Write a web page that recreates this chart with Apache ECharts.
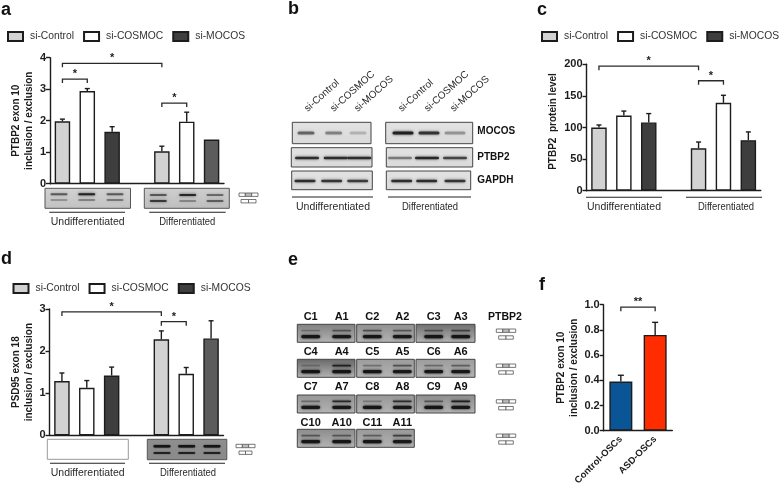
<!DOCTYPE html>
<html>
<head>
<meta charset="utf-8">
<style>html,body{margin:0;padding:0;background:#fff}#c{width:779px;height:483px}</style>
<script src="https://cdn.jsdelivr.net/npm/echarts@6/dist/echarts.min.js"></script>
</head>
<body>
<div id="c"></div>
<script>
// ---------- chart values ----------
const groupNames = ['si-Control', 'si-COSMOC', 'si-MOCOS'];
const aUndiff = [1.98, 2.94, 1.65];
const aUndiffErr = [2.05, 3.02, 1.81];
const aDiff = [1.03, 1.97, 1.40];
const aDiffErr = [1.19, 2.27, null];
const cUndiff = [100, 119, 108];
const cUndiffErr = [104, 126, 122];
const cDiff = [67, 139, 80];
const cDiffErr = [77, 151, 93];
const dUndiff = [1.29, 1.13, 1.42];
const dUndiffErr = [1.48, 1.30, 1.62];
const dDiff = [2.28, 1.46, 2.30];
const dDiffErr = [2.48, 1.61, 2.72];
const fNames = ['Control-OSCs', 'ASD-OSCs'];
const fValues = [0.39, 0.76];
const fErr = [0.44, 0.86];
// brackets: from slot, to slot, height in value units, label
const aBrackets = [[0, 4, 3.82, '*'], [0, 1, 3.32, '*'], [4, 5, 2.56, '*']];
const cBrackets = [[0, 4, 197, '*'], [4, 5, 174, '*']];
const dBrackets = [[0, 4, 2.93, '*'], [4, 5, 2.70, '*']];
const fBrackets = [[0, 1, 0.98, '**']];
const blotColumns = ['si-Control', 'si-COSMOC', 'si-MOCOS'];
const blotRows = ['MOCOS', 'PTBP2', 'GAPDH'];
const sampleRows = [
  ['C1', 'A1', 'C2', 'A2', 'C3', 'A3'],
  ['C4', 'A4', 'C5', 'A5', 'C6', 'A6'],
  ['C7', 'A7', 'C8', 'A8', 'C9', 'A9'],
  ['C10', 'A10', 'C11', 'A11']
];
// band darkness per lane [upper, lower]
const sampleBands = [
  [[.25,1],[.5,.95],[.55,1],[.5,.95],[.5,1],[.6,1]],
  [[.2,1],[.95,1],[.3,1],[.55,.95],[.35,1],[.45,.95]],
  [[.35,.95],[.9,.95],[.25,1],[.85,.95],[.5,1],[1,.95]],
  [[.5,1],[.5,1],[.45,1],[.7,.95]]
];
const blotBands = {
  MOCOS: [[.55,.4,.15],[1,.85,.3]],
  PTBP2: [[.9,.9,.9],[.45,.95,.75]],
  GAPDH: [[.9,.85,.8],[.9,.9,.85]]
};

// ---------- styling ----------
const FONT = '"Liberation Sans", Arial, sans-serif';
const INK = '#1c1c1c';
const BAR_FILL = ['#d2d2d2', '#ffffff', '#3e3e3e'];
const BAR_FILL_DIFF = {a: '#5c5c5c', c: '#3e3e3e', d: '#5c5c5c'};

// ---------- ECharts layout ----------
const grids = [
  {left: 50, top: 57.7, width: 174, height: 126, outerBoundsMode: 'none'},
  {left: 586.5, top: 64.3, width: 174.3, height: 126.4, outerBoundsMode: 'none'},
  {left: 49.5, top: 309, width: 174, height: 126.3, outerBoundsMode: 'none'},
  {left: 603.7, top: 304.7, width: 68.6, height: 126, outerBoundsMode: 'none'}
];
function yAxis(i, min, max, interval, name, gap, fmt, namePad) {
  return {
    type: 'value', gridIndex: i, min, max, interval,
    name, nameLocation: 'middle', nameRotate: 90, nameGap: gap,
    nameTextStyle: {fontFamily: FONT, fontWeight: 'bold', fontSize: 10, color: INK, lineHeight: 13, padding: namePad || 0},
    splitLine: {show: false},
    axisLine: {show: true, lineStyle: {color: INK, width: 1.4}},
    axisTick: {show: true, length: 4, lineStyle: {color: INK, width: 1.4}},
    axisLabel: {fontFamily: FONT, fontWeight: 'bold', fontSize: 11, color: INK, margin: 4, formatter: fmt}
  };
}
function xAxis(i, names, extra) {
  return Object.assign({
    type: 'category', gridIndex: i, data: names,
    axisLine: {show: true, lineStyle: {color: INK, width: 1.4}},
    axisTick: {show: false}, axisLabel: {show: false}
  }, extra || {});
}
const slotNames = ['u1', 'u2', 'u3', '', 'd1', 'd2', 'd3'];

function panelBars(i, key, under, diff) {
  return groupNames.map((name, k) => {
    const data = slotNames.map(() => null);
    data[k] = under[k];
    data[k + 4] = k === 2 ? {value: diff[k], itemStyle: {color: BAR_FILL_DIFF[key]}} : diff[k];
    return {
      type: 'bar', name, xAxisIndex: i, yAxisIndex: i, data,
      barWidth: 15.5, barGap: '-100%',
      itemStyle: {color: BAR_FILL[k], borderColor: INK, borderWidth: 1.4},
      z: 3
    };
  });
}
function errorSeries(i, rows, cap) {
  return {
    type: 'custom', xAxisIndex: i, yAxisIndex: i, data: rows, z: 2, silent: true,
    renderItem(p, api) {
      const top = api.coord([api.value(0), api.value(1)]);
      const base = api.coord([api.value(0), api.value(2)]);
      const s = {stroke: INK, lineWidth: 1.4};
      return {type: 'group', children: [
        {type: 'line', shape: {x1: top[0], y1: top[1], x2: base[0], y2: base[1]}, style: s},
        {type: 'line', shape: {x1: top[0] - cap, y1: top[1], x2: top[0] + cap, y2: top[1]}, style: s}
      ]};
    }
  };
}
function bracketSeries(i, rows) {
  return {
    type: 'custom', xAxisIndex: i, yAxisIndex: i, data: rows.map(r => [r[0], r[1], r[2]]), z: 4, silent: true,
    renderItem(p, api) {
      const a = api.coord([api.value(0), api.value(2)]);
      const b = api.coord([api.value(1), api.value(2)]);
      return {type: 'group', children: [
        {type: 'polyline', shape: {points: [[a[0], a[1] + 4], [a[0], a[1]], [b[0], b[1]], [b[0], b[1] + 4]]},
         style: {stroke: '#2a2a2a', lineWidth: 1.3, fill: 'none'}},
        {type: 'text', style: {text: rows[p.dataIndex][3], x: (a[0] + b[0]) / 2, y: a[1] - 5,
          font: 'bold 11px ' + FONT, fill: INK, textAlign: 'center', textVerticalAlign: 'middle'}}
      ]};
    }
  };
}
function errRows(under, uErr, diff, dErr) {
  const rows = [];
  under.forEach((v, k) => { if (uErr[k] != null) rows.push([k, uErr[k], v]); });
  diff.forEach((v, k) => { if (dErr[k] != null) rows.push([k + 4, dErr[k], v]); });
  return rows;
}

// ---------- gel drawings ----------
const g = [];
function text(t, x, y, o) {
  o = o || {};
  g.push({type: 'text', x, y, rotation: o.rot || 0, scaleX: o.sx || 1, z: 20, silent: true,
    style: {text: t, x: 0, y: 0, font: (o.bold ? 'bold ' : '') + (o.size || 10.5) + 'px ' + FONT,
      fill: o.fill || '#2a2a2a', textAlign: o.align || 'center', textVerticalAlign: 'middle'}});
}
function line(x1, x2, y) {
  g.push({type: 'line', z: 20, silent: true, shape: {x1, y1: y, x2, y2: y}, style: {stroke: '#222', lineWidth: 1.1}});
}
function box(x, y, w, h, c1, c2, stroke) {
  g.push({type: 'rect', z: 10, silent: true, shape: {x, y, width: w, height: h},
    style: {fill: {type: 'linear', x: 0, y: 0, x2: 0, y2: 1, colorStops: [{offset: 0, color: c1}, {offset: 1, color: c2}]},
      stroke: stroke || '#555', lineWidth: 1}});
}
function band(cx, cy, w, h, dark, blur) {
  const c = `rgba(20,20,20,${(0.08 + dark * .8).toFixed(2)})`;
  g.push({type: 'rect', z: 11, silent: true, shape: {x: cx - w / 2, y: cy - h / 2, width: w, height: h, r: h / 2},
    style: {fill: c, shadowBlur: blur == null ? 3 : blur, shadowColor: c}});
}
function schematic(x, y, w, y2, inset) {
  const cell = w / 3;
  [0, 1, 2].forEach(k => g.push({type: 'rect', z: 12, silent: true,
    shape: {x: x + k * cell, y, width: cell, height: 3.4},
    style: {fill: k === 1 ? '#bdbdbd' : '#fff', stroke: '#555', lineWidth: .8}}));
  [0, 1].forEach(k => g.push({type: 'rect', z: 12, silent: true,
    shape: {x: x + inset + k * (w - 2 * inset) / 2, y: y2, width: (w - 2 * inset) / 2, height: 3.4},
    style: {fill: '#fff', stroke: '#555', lineWidth: .8}}));
}
const DSX = 0.9;

// panel letters
[['a', 1, 10], ['b', 288, 9], ['c', 537, 10], ['d', 1, 259], ['e', 288, 260], ['f', 539, 285]].forEach(l =>
  text(l[0], l[1], l[2], {bold: true, size: 18, align: 'left', fill: '#111'}));

// panel a gels
box(45, 188.3, 85.5, 20, '#d2d2d2', '#c2c2c2');
box(144.3, 188.3, 85, 20, '#cfcfcf', '#bdbdbd');
[[59, .6, .25], [86.7, 1, .35], [115, .6, .4]].forEach(b => {
  band(b[0], 194.3, 17, 2, b[1]); band(b[0], 200, 17, 2, b[2]);
});
[[158.3, .6, .8], [187.7, .95, .3], [215, .5, .55]].forEach(b => {
  band(b[0], 195, 17, 2, b[1]); band(b[0], 201, 17, 2, b[2]);
});
schematic(239, 193, 19, 199.5, 2);
line(49.3, 125, 212.3); line(149.3, 225.7, 212.3);
text('Undifferentiated', 87.7, 222); text('Differentiated', 187.3, 222, {sx: DSX});

// panel b blots
const blotY = [[122.3, 21.4, 133], [147.7, 19.3, 158], [171, 18.7, 181]];
const blotX = [[[292.3, 78.7], [385.7, 87]], [[291.3, 80.7], [386.3, 86.4]], [[291.7, 80.6], [386.3, 84.4]]];
const blotLanes = [[[306, 333.7, 358], [403, 429, 455]], [[307, 335.7, 359.3], [400, 427, 455]], [[305, 331.7, 357.7], [401.7, 426.7, 455]]];
blotRows.forEach((name, r) => {
  [0, 1].forEach(side => {
    box(blotX[r][side][0], blotY[r][0], blotX[r][side][1], blotY[r][1], '#e2e2e2', '#dadada', '#444');
    blotBands[name][side].forEach((d, k) =>
      band(blotLanes[r][side][k], blotY[r][2], r === 0 && side === 0 ? 17 : (r === 1 ? 24 : 21), r === 0 ? 3 : 2.6, d));
  });
  text(name, 477.3, [131.3, 157, 180][r], {bold: true, size: 10, align: 'left', fill: '#111'});
});
[[306, 332, 356], [400, 426, 452]].forEach(xs => xs.forEach((x, k) =>
  text(blotColumns[k], x, 110, {rot: Math.PI * 0.233, align: 'left', size: 10})));
line(292, 373, 197); line(388, 471, 197);
text('Undifferentiated', 333, 207); text('Differentiated', 430, 207, {sx: DSX});

// panel c underlines
line(586, 662, 197.3); line(686, 762, 197.3);
text('Undifferentiated', 624, 207); text('Differentiated', 726, 207, {sx: DSX});

// panel d gels
box(47.3, 439.3, 81, 20, '#ffffff', '#ffffff', '#999');
box(147.3, 439.3, 79.5, 20.4, '#8e8e8e', '#8a8a8a');
[162, 186.7, 212].forEach(x => {
  band(x, 446.3, 17, 2.6, 1.1, 1.5); band(x, 453, 17, 1.8, .9, 1.5);
});
schematic(236, 444.3, 19, 451, 3);
line(50, 125, 463.3); line(149, 225, 463.3);
text('Undifferentiated', 87.7, 472.7); text('Differentiated', 188, 472.7, {sx: DSX});

// panel e gels
const rowLabelY = [317.3, 351.7, 387.3, 422.7];
const rowGelY = [324.3, 359.3, 395, 429.3];
const rowShade = [['#808080', '#909090', '#6e6e6e'], ['#676767', '#9c9c9c', '#9c9c9c'], ['#969696', '#969696', '#8c8c8c'], ['#8c8c8c', '#999999']];
const gelX = [[297.3, 57.7], [356.7, 57.6], [416, 59]];
const laneX = [310.7, 341.7, 372.3, 402.3, 433.7, 460.7];
sampleRows.forEach((row, r) => {
  rowShade[r].forEach((s, k) => box(gelX[k][0], rowGelY[r], gelX[k][1], 18, s, '#b4b4b4', '#444'));
  row.forEach((name, k) => {
    text(name, laneX[k], rowLabelY[r], {bold: true, size: 11, fill: '#111'});
    const d = sampleBands[r][k];
    band(laneX[k], rowGelY[r] + 6.3, 19, 1.8, d[0]);
    band(laneX[k], rowGelY[r] + 12.3, 19, 3.2, d[1] * 1.1);
  });
  schematic(496.3, rowGelY[r] + 4.7, 19.4, rowGelY[r] + 11.5, 2.4);
});
text('PTBP2', 505, 317.3, {bold: true, size: 10.5, fill: '#111'});

// ---------- chart ----------
const legendBase = {
  data: groupNames, selectedMode: false, orient: 'horizontal', icon: 'rect', padding: 0, width: 260,
  itemWidth: 15, itemHeight: 9, itemGap: 9,
  textStyle: {fontFamily: FONT, fontSize: 10.3, color: '#333', padding: [0, 0, 0, 2]}
};
const option = {
  animation: false,
  backgroundColor: '#fff',
  grid: grids,
  legend: [
    Object.assign({}, legendBase, {left: 7, top: 31}),
    Object.assign({}, legendBase, {left: 541, top: 31}),
    Object.assign({}, legendBase, {left: 12.5, top: 283})
  ],
  xAxis: [
    xAxis(0, slotNames), xAxis(1, slotNames), xAxis(2, slotNames),
    xAxis(3, fNames, {axisLabel: {show: true, interval: 0, rotate: 45, fontFamily: FONT, fontWeight: 'bold', fontSize: 9.5, color: INK, margin: 7}})
  ],
  yAxis: [
    yAxis(0, 0, 4, 1, 'PTBP2 exon 10\ninclusion / exclusion', 13),
    yAxis(1, 0, 200, 50, 'PTBP2  protein level', 23, undefined, [0, 0, 0, 12]),
    yAxis(2, 0, 3, 1, 'PSD95 exon 18\ninclusion / exclusion', 13),
    yAxis(3, 0, 1, 0.2, 'PTBP2 exon 10\ninclusion / exclusion', 20, v => v.toFixed(1))
  ],
  series: [
    ...panelBars(0, 'a', aUndiff, aDiff),
    errorSeries(0, errRows(aUndiff, aUndiffErr, aDiff, aDiffErr), 2.5),
    bracketSeries(0, aBrackets),
    ...panelBars(1, 'c', cUndiff, cDiff),
    errorSeries(1, errRows(cUndiff, cUndiffErr, cDiff, cDiffErr), 2.5),
    bracketSeries(1, cBrackets),
    ...panelBars(2, 'd', dUndiff, dDiff),
    errorSeries(2, errRows(dUndiff, dUndiffErr, dDiff, dDiffErr), 2.5),
    bracketSeries(2, dBrackets),
    {
      type: 'bar', name: 'OSCs', xAxisIndex: 3, yAxisIndex: 3, barWidth: 23, z: 3,
      data: [{value: fValues[0], itemStyle: {color: '#0a5596'}}, {value: fValues[1], itemStyle: {color: '#ff2c00'}}],
      itemStyle: {borderColor: INK, borderWidth: 1.4}
    },
    errorSeries(3, fValues.map((v, k) => [k, fErr[k], v]), 3),
    bracketSeries(3, fBrackets)
  ],
  graphic: {elements: g}
};
echarts.init(document.getElementById('c'), null, {renderer: 'canvas'}).setOption(option);
</script>
</body>
</html>
